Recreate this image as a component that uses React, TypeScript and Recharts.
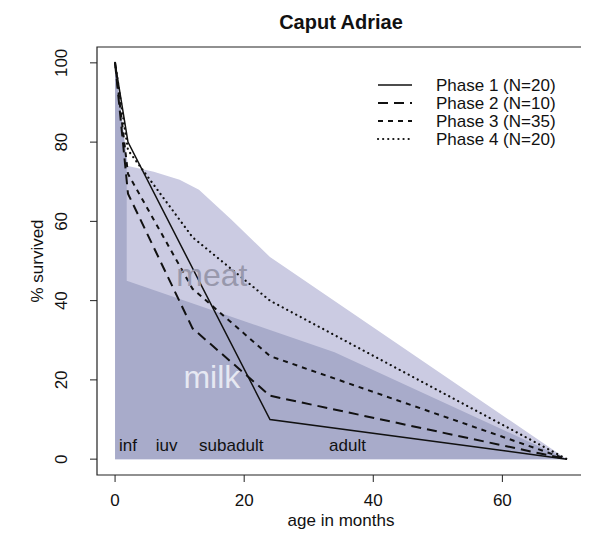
import React from 'react';
import {
  ComposedChart,
  Area,
  Line,
  XAxis,
  YAxis,
  ReferenceArea,
  ReferenceDot,
  Legend,
} from 'recharts';

const FONT = '"Liberation Sans", Arial, Helvetica, sans-serif';

// survival curves (% survived by age in months)
const ages1 = [0, 2, 24, 70];
const phase1 = [100, 80, 10, 0];
const ages = [0, 2, 12, 24, 70];
const phase2 = [100, 67, 33, 16, 0];
const phase3 = [100, 72, 43, 26, 0];
const phase4 = [100, 78, 56, 40, 0];

// shaded reference models
const meatAges = [0, 2, 6, 10, 13, 18, 24, 70];
const meatTop = [100, 74, 72.5, 70.5, 68, 60.5, 51, 0];
const milkAges = [0, 1.8, 1.8, 34, 70];
const milkTop = [100, 75, 45, 27, 0];

const xTicks = [0, 20, 40, 60];
const yTicks = [0, 20, 40, 60, 80, 100];

const stageNames = ['inf', 'iuv', 'subadult', 'adult'];
const stageAges = [2, 8, 18, 36];
const stageLevel = 2;

const modelNames = ['meat', 'milk'];
const modelAges = [15, 15];
const modelLevels = [43.8, 17.9];
const modelColors = ['#9898AC', '#E6E8F2'];

const phaseNames = ['Phase 1 (N=20)', 'Phase 2 (N=10)', 'Phase 3 (N=35)', 'Phase 4 (N=20)'];
const phaseDash = ['', '10 6', '5 5', '0.1 5'];
const phaseWidth = [1.5, 2, 2, 2.2];

const pts = (xs: number[], ys: number[]) => xs.map((x, i) => ({ x, y: ys[i] }));

const series = [
  pts(ages1, phase1),
  pts(ages, phase2),
  pts(ages, phase3),
  pts(ages, phase4),
];

const W = 581;
const H = 526;

const YTick = (props: any) => {
  const { x, y, payload } = props;
  const cx = x - 26;
  return (
    <text
      x={cx}
      y={y}
      transform={`rotate(-90 ${cx} ${y})`}
      textAnchor="middle"
      dominantBaseline="central"
      fontSize={17}
      fontFamily={FONT}
      fill="#111"
    >
      {payload.value}
    </text>
  );
};

const XTick = (props: any) => {
  const { x, y, payload } = props;
  return (
    <text
      x={x}
      y={y + 16}
      textAnchor="middle"
      dominantBaseline="central"
      fontSize={17}
      fontFamily={FONT}
      fill="#111"
    >
      {payload.value}
    </text>
  );
};

const LegendBox = () => (
  <svg width={220} height={80} style={{ display: 'block' }}>
    {phaseNames.map((name, i) => {
      const y = 9 + i * 18;
      return (
        <g key={name}>
          <line
            x1={8}
            x2={42}
            y1={y}
            y2={y}
            stroke="#111"
            strokeWidth={phaseWidth[i]}
            strokeDasharray={phaseDash[i] || undefined}
            strokeLinecap={i === 3 ? 'round' : 'butt'}
          />
          <text
            x={66}
            y={y}
            dominantBaseline="central"
            fontSize={17}
            fontFamily={FONT}
            fill="#111"
          >
            {name}
          </text>
        </g>
      );
    })}
  </svg>
);

export default function App() {
  return (
    <div style={{ position: 'relative', width: W, height: H, fontFamily: FONT }}>
      <div
        style={{
          position: 'absolute',
          left: 183,
          width: 300,
          top: 4,
          textAlign: 'center',
          fontSize: 20,
          lineHeight: '20px',
          fontWeight: 'bold',
          color: '#111',
          zIndex: 2,
        }}
      >
        Caput Adriae
      </div>
      <ComposedChart width={W} height={H} margin={{ top: 39, right: 4, bottom: 0, left: 0 }}>
        <XAxis
          dataKey="x"
          type="number"
          domain={[-2.8, 72.8]}
          allowDataOverflow
          ticks={xTicks}
          interval={0}
          height={59}
          axisLine={false}
          tickSize={7}
          tickMargin={2}
          tickLine={{ stroke: '#222' }}
          tick={XTick}
          label={() => (
            <text
              x={333}
              y={512}
              textAnchor="middle"
              dominantBaseline="central"
              fontSize={17}
              fontFamily={FONT}
              fill="#111"
            >
              age in months
            </text>
          )}
        />
        <YAxis
          dataKey="y"
          type="number"
          domain={[-4, 104]}
          allowDataOverflow
          ticks={yTicks}
          interval={0}
          width={89}
          axisLine={false}
          tickSize={7}
          tickMargin={2}
          tickLine={{ stroke: '#222' }}
          tick={YTick}
          label={() => (
            <text
              x={29}
              y={253}
              transform="rotate(-90 29 253)"
              textAnchor="middle"
              dominantBaseline="central"
              fontSize={17}
              fontFamily={FONT}
              fill="#111"
            >
              % survived
            </text>
          )}
        />
        <Area
          data={pts(meatAges, meatTop)}
          dataKey="y"
          type="linear"
          baseValue={0}
          fill="#CBCBE2"
          fillOpacity={1}
          stroke="none"
          isAnimationActive={false}
          dot={false}
          activeDot={false}
        />
        <Area
          data={pts(milkAges, milkTop)}
          dataKey="y"
          type="linear"
          baseValue={0}
          fill="#A8ABCA"
          fillOpacity={1}
          stroke="none"
          isAnimationActive={false}
          dot={false}
          activeDot={false}
        />
        {modelNames.map((name, i) => (
          <ReferenceDot
            key={name}
            x={modelAges[i]}
            y={modelLevels[i]}
            r={0}
            shape={(p: any) => (
              <text
                x={p.cx}
                y={p.cy}
                textAnchor="middle"
                fontSize={32}
                fontFamily={FONT}
                fill={modelColors[i]}
              >
                {name}
              </text>
            )}
          />
        ))}
        {stageNames.map((name, i) => (
          <ReferenceDot
            key={name}
            x={stageAges[i]}
            y={stageLevel}
            r={0}
            shape={(p: any) => (
              <text
                x={p.cx}
                y={p.cy}
                textAnchor="middle"
                fontSize={17}
                fontFamily={FONT}
                fill="#111"
              >
                {name}
              </text>
            )}
          />
        ))}
        {series.map((d, i) => (
          <Line
            key={phaseNames[i]}
            data={d}
            dataKey="y"
            name={phaseNames[i]}
            type="linear"
            stroke="#111"
            strokeWidth={phaseWidth[i]}
            strokeDasharray={phaseDash[i] || undefined}
            strokeLinecap={i === 3 ? 'round' : 'butt'}
            dot={false}
            activeDot={false}
            isAnimationActive={false}
          />
        ))}
        <ReferenceArea
          x1={-2.8}
          x2={72.8}
          y1={-4}
          y2={104}
          fill="none"
          stroke="#222"
          strokeWidth={1.2}
          ifOverflow="visible"
        />
        <Legend
          layout="vertical"
          align="center"
          verticalAlign="middle"
          wrapperStyle={{ left: 362, top: 68, width: 220, height: 80 }}
          content={() => <LegendBox />}
        />
      </ComposedChart>
    </div>
  );
}
